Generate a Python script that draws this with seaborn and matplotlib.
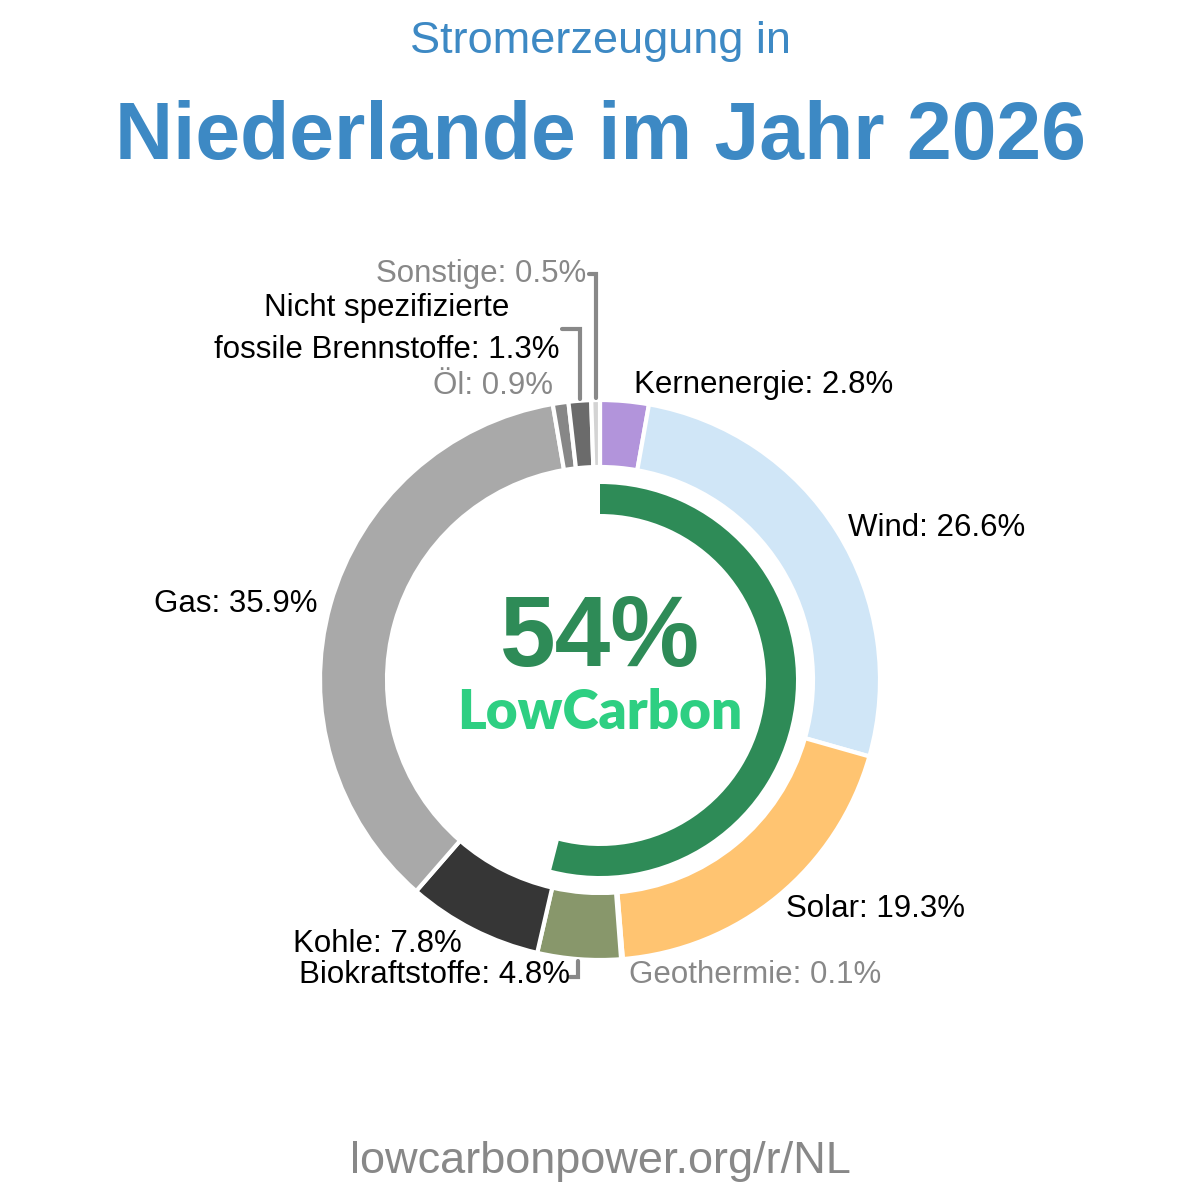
import numpy as np
import matplotlib
matplotlib.use("Agg")
import matplotlib.pyplot as plt
import seaborn as sns

sns.set_theme(style="white")
plt.rcParams['font.family'] = ['Liberation Sans', 'DejaVu Sans']

# data
sources = ["Kernenergie", "Wind", "Solar", "Geothermie", "Biokraftstoffe",
           "Kohle", "Gas", "Öl", "Nicht spezifizierte\nfossile Brennstoffe", "Sonstige"]
shares = [2.8, 26.6, 19.3, 0.1, 4.8, 7.8, 35.9, 0.9, 1.3, 0.5]
colors = ["#b294db", "#d0e6f7", "#ffc471", "#c8553d", "#88976b",
          "#363636", "#a9a9a9", "#878787", "#6b6b6b", "#d3d3d3"]
low_carbon = 54

title_color = "#3d89c4"

fig = plt.figure(figsize=(12, 12), dpi=100)
ax = fig.add_axes([0, 0, 1, 1])

cx, cy = 600, 520
R = 280

ax.pie(shares, colors=colors, radius=R, center=(cx, cy),
       startangle=90, counterclock=False, frame=True,
       wedgeprops=dict(width=67, edgecolor='white', linewidth=3))

# inner low-carbon arc
ax.pie([low_carbon, 100 - low_carbon], colors=["#2e8b57", "none"], radius=196,
       center=(cx, cy), startangle=90, counterclock=False, frame=True,
       wedgeprops=dict(width=30, edgecolor='none'))
ax.set_xlim(0, 1200)
ax.set_ylim(0, 1200)
ax.set_aspect('equal')
ax.axis('off')

# label nudges (px, up is positive)
nudge = {"Kernenergie": (8, 6), "Kohle": (-5, 0), "Öl": (-6, 7),
         "Geothermie": (6, 0), "Biokraftstoffe": (-8, 0)}
# labels lifted with an elbow connector: height above centre, gap to line
elbow = {"Nicht spezifizierte\nfossile Brennstoffe": (351, 20), "Sonstige": (406, 9)}

cum = np.cumsum([0] + shares[:-1])
for name, val, start in zip(sources, shares, cum):
    ang = np.deg2rad(90 - 3.6 * (start + val / 2))
    lx = cx + 293 * np.cos(ang)
    ly = cy + 293 * np.sin(ang) - 3
    col = "#888888" if val < 1 else "black"
    ha = "left" if np.cos(ang) > 0.05 else "right"
    dx, dy = nudge.get(name, (0, 0))
    lx += dx
    ly += dy
    if name in elbow:
        h, gap = elbow[name]
        ex = cx + 282 * np.cos(ang)
        ly = cy + h
        ax.plot([ex - gap + 2, ex, ex], [ly, ly, cy + 282 * np.sin(ang)],
                color="#888888", lw=3, solid_joinstyle='miter')
        lx = ex - gap
    if name == "Biokraftstoffe":
        ax.plot([lx, lx + 8, lx + 8], [ly - 2, ly - 2, ly + 14],
                color="#888888", lw=3, solid_joinstyle='miter')
    ax.text(lx, ly, f"{name}: {val}%", ha=ha, va="center", fontsize=22.5, color=col,
            multialignment="center", linespacing=1.55)

# center text
ax.text(cx, cy + 40, f"{low_carbon}%", ha="center", va="center",
        fontsize=72, fontweight="bold", color="#2e8b57")
ax.text(cx, cy - 33, "LowCarbon", ha="center", va="center",
        fontsize=39.5, fontweight="heavy", color="#2ecf82", family=["Lato", "DejaVu Sans"])

# titles
fig.text(0.5, 1 - 41 / 1200, "Stromerzeugung in", ha="center", va="center",
         fontsize=32.5, color=title_color)
fig.text(0.5, 1 - 138 / 1200, "Niederlande im Jahr 2026", ha="center", va="center",
         fontsize=58, fontweight="bold", color=title_color)
fig.text(0.5, 1 - 1162 / 1200, "lowcarbonpower.org/r/NL", ha="center", va="center",
         fontsize=32.5, color="#888888")

fig.savefig("out.png", dpi=100, facecolor="white")
